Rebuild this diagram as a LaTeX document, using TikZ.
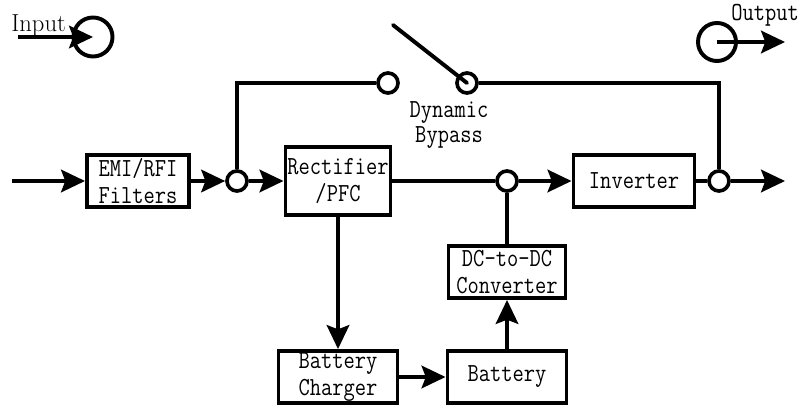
\documentclass[tikz,border=0pt]{standalone}
\usepackage{fontspec}
\setmonofont[FakeStretch=0.84]{Latin Modern Mono}
\usetikzlibrary{arrows.meta}

\tikzset{
  wire/.style={line width=2.8pt},
  flow/.style={wire,-{Stealth[length=17pt,width=16pt,inset=3pt]}},
  lbl/.style={font=\fontsize{18.5}{19.5}\selectfont\ttfamily,align=center},
  block/.style={lbl,draw,line width=2.8pt,fill=white,inner sep=0pt},
  joint/.style={circle,draw,line width=2.6pt,fill=white,inner sep=0pt,minimum size=0.5cm},
  port/.style={circle,draw,line width=2.8pt,inner sep=0pt}
}

\begin{document}
\begin{tikzpicture}[x=0.025cm,y=-0.025cm]
\useasboundingbox (0,0) rectangle (800,407);

% blocks
\node[block,minimum width=2.55cm,minimum height=1.3cm] (filt) at (138,181) {EMI/RFI\\Filters};
\node[block,minimum width=2.625cm,minimum height=1.7cm] (rect) at (338,181) {Rectifier\\/PFC};
\node[block,minimum width=3.025cm,minimum height=1.3cm] (inv) at (634,181) {Inverter};
\node[block,minimum width=2.925cm,minimum height=1.3cm] (dcdc) at (507,272) {DC-to-DC\\Converter};
\node[block,minimum width=2.975cm,minimum height=1.3cm] (chg) at (338,377) {Battery\\Charger};
\node[block,minimum width=2.975cm,minimum height=1.3cm] (bat) at (507,377) {Battery};

% junctions and switch contacts
\node[joint] (j1) at (237,181) {};
\node[joint] (j2) at (507,181) {};
\node[joint] (j3) at (719,181) {};
\node[joint] (c1) at (388,83) {};
\node[joint] (c2) at (467,83) {};

\node[coordinate] (in0) at (12,181) {};
\node[coordinate] (out0) at (785,181) {};
\node[coordinate] (sw) at (393,25) {};

% main path
\draw[flow] (in0)--(filt);
\draw[flow] (filt)--(j1);
\draw[flow] (j1)--(rect);
\draw[wire] (rect)--(j2);
\draw[flow] (j2)--(inv);
\draw[wire] (inv)--(j3);
\draw[flow] (j3)--(out0);

% battery path
\draw[flow] (rect)--(chg);
\draw[flow] (chg)--(bat);
\draw[flow] (bat)--(dcdc);
\draw[wire] (dcdc)--(j2);

% bypass
\draw[wire] (j1) |- (c1);
\draw[wire] (c2) -| (j3);
\draw[wire,line cap=round] (sw)--(c2.center);
\node[lbl,font=\fontsize{18.5}{17.5}\selectfont\ttfamily,inner sep=0pt] (byp) at (449,125) {Dynamic\\Bypass};

% input / output symbols
\node[port,minimum size=0.975cm] (inc) at (93,37) {};
\node[coordinate] (ina) at (18,37) {};
\draw[flow] (ina)--(inc.center);
\node[anchor=base west,inner sep=0pt,font=\fontsize{17.5}{18}\selectfont] (inl) at (11,32) {Input};

\node[port,minimum size=0.95cm] (outc) at (717,42) {};
\node[coordinate] (outa) at (785,42) {};
\draw[flow] (outc.center)--(outa);
\node[lbl,anchor=base west,inner sep=0pt] (outl) at (731,21) {Output};

\end{tikzpicture}
\end{document}
